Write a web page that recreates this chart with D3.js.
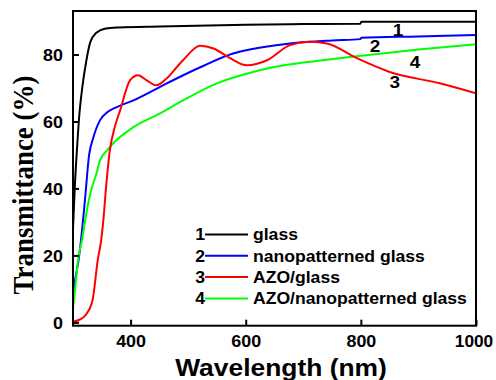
<!DOCTYPE html>
<html><head><meta charset="utf-8">
<script src="https://cdn.jsdelivr.net/npm/d3@7"></script>
<style>body{margin:0;background:#fff}svg{display:block}</style>
</head><body><svg id="c" width="496" height="380"></svg>
<script>
const seriesNames = ["glass","nanopatterned glass","AZO/glass","AZO/nanopatterned glass"];
const seriesIds = ["1","2","3","4"];
const seriesColors = ["#000000","#0000ff","#ff0000","#00ff00"];
const glassX = [300,303,307,311,316,323,330,340,357,380,450,600,700,799,801,900,1000];
const glassY = [28,40,52,62,70,78,83.7,86.4,87.8,88.1,88.4,88.9,89.1,89.2,89.8,89.8,89.8];
const nanoX = [300,305,310,316,321,328,335,347,360,376,405,463,521,578,607,677,750,799,801,900,1000];
const nanoY = [9,14,19,28,37,50,55,60.4,62.8,64.3,66.3,71.4,76.2,80.3,81.5,83.3,84.2,84.6,85.0,85.4,85.8];
const azoX = [300,310,322,334,343,349,353,357,364,372,382,399,413,428,445,463,491,521,544,573,602,637,677,712,741,793,850,937,1000];
const azoY = [0.2,0.7,2.2,6.7,18.6,24.6,31,39.5,51.4,58,63.4,72.3,73.8,72.3,70.8,72.9,78.3,82.6,81.8,78.9,76.8,78.3,82.8,83.8,83.3,78.9,74.8,71.4,68.4];
const azoNanoX = [300,303.5,308.7,315.6,322.6,333,340,347,360,370,405,451,491,550,600,647,700,793,900,1000];
const azoNanoY = [4.3,9.6,18.6,24.6,32,40.4,44,48.4,51.5,53.5,58.3,62.4,66.3,71.4,74.2,76.2,77.6,79.5,81.5,83.1];
const xTicks = [400,600,800,1000];
const yTicks = [0,20,40,60,80];
const curveLabels = [{t:"1",x:864.5,y:85.5},{t:"2",x:824.5,y:80.8},{t:"4",x:894,y:76},{t:"3",x:859,y:70}];

const xs=[glassX,nanoX,azoX,azoNanoX], ys=[glassY,nanoY,azoY,azoNanoY];
const svg=d3.select("#c");
const L=73,R=476,T=11,B=325.7;
const x=d3.scaleLinear().domain([300,1000]).range([L,R]);
const y=d3.scaleLinear().domain([-1,93]).range([B,T]);
const sx=1.12;
const sans="Liberation Sans, Arial, sans-serif";

const line=d3.line().x(d=>x(d[0])).y(d=>y(d[1])).curve(d3.curveMonotoneX);
svg.append("defs").append("clipPath").attr("id","clip").append("rect").attr("x",L).attr("y",T).attr("width",R-L).attr("height",B-T);
const g=svg.append("g").attr("clip-path","url(#clip)");
[0,1,3,2].forEach(i=>{
  const pts=xs[i].map((v,j)=>[v,ys[i][j]]);
  g.append("path").attr("d",line(pts)).attr("fill","none").attr("stroke",seriesColors[i]).attr("stroke-width",2);
});

// axes
const xa=svg.append("g").attr("transform",`translate(0,${B})`).call(d3.axisBottom(x).tickValues(xTicks).tickFormat(d3.format("d")).tickSizeInner(-6).tickSizeOuter(0).tickPadding(8));
const ya=svg.append("g").attr("transform",`translate(${L},0)`).call(d3.axisLeft(y).tickValues(yTicks).tickFormat(d3.format("d")).tickSizeInner(-6).tickSizeOuter(0).tickPadding(8));
[xa,ya].forEach(a=>{a.select(".domain").remove();a.selectAll(".tick line").attr("stroke","#000").attr("stroke-width",2);
 a.selectAll(".tick text").attr("font-family",sans).attr("font-weight","bold").attr("font-size",16).attr("fill","#000");});
xa.selectAll(".tick text").attr("dy",null).attr("y",null).attr("transform",d=>`translate(${d===1000?-2.5:0},21) scale(${d===1000?1.08:sx},1)`);
ya.selectAll(".tick text").attr("x",null).attr("dy",null).attr("transform",`translate(-10,6) scale(${sx},1)`);
svg.append("rect").attr("x",L).attr("y",T).attr("width",R-L).attr("height",B-T).attr("fill","none").attr("stroke","#000").attr("stroke-width",2);

// axis titles
svg.append("text").attr("transform",`translate(281,376) scale(1.1,1)`).attr("text-anchor","middle")
 .attr("font-family",sans).attr("font-weight","bold").attr("font-size",24).text("Wavelength (nm)");
svg.append("text").attr("transform",`translate(33,185) scale(1.1,1) rotate(-90)`).attr("text-anchor","middle")
 .attr("font-family","Liberation Serif, Times New Roman, serif").attr("font-weight","bold").attr("font-size",27).text("Transmittance (%)");

// curve labels
curveLabels.forEach(c=>{
  svg.append("text").attr("transform",`translate(${x(c.x)},${y(c.y)}) scale(${sx},1)`).attr("text-anchor","middle")
   .attr("font-family",sans).attr("font-weight","bold").attr("font-size",17).text(c.t);
});

// legend
const legY=[234.5,255.8,277,298.5];
seriesNames.forEach((n,i)=>{
  svg.append("line").attr("x1",205).attr("x2",248).attr("y1",legY[i]).attr("y2",legY[i]).attr("stroke",seriesColors[i]).attr("stroke-width",2);
  svg.append("text").attr("transform",`translate(205,${legY[i]+5.7}) scale(1.1,1)`).attr("text-anchor","end")
   .attr("font-family",sans).attr("font-weight","bold").attr("font-size",16).text(seriesIds[i]);
  svg.append("text").attr("transform",`translate(253,${legY[i]+5.7}) scale(1.1,1)`)
   .attr("font-family",sans).attr("font-weight","bold").attr("font-size",16).text(n);
});
</script></body></html>
